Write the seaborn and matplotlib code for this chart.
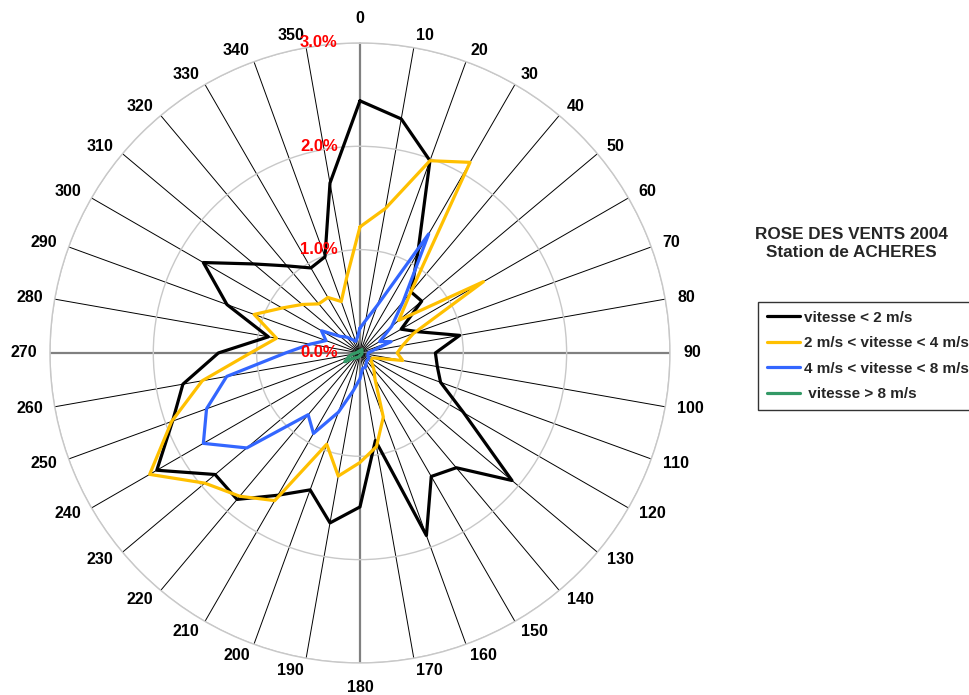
import numpy as np
import pandas as pd
import matplotlib
matplotlib.use("Agg")
import matplotlib.pyplot as plt
from matplotlib.lines import Line2D
import seaborn as sns

# Wind directions (degrees from north) and frequency per speed class (%)
directions = list(range(0, 360, 10))

speed_lt2 = [2.44, 2.30, 1.98, 1.12, 0.77, 0.78, 0.46, 0.60, 0.98, 0.73,
             0.76, 0.83, 1.16, 1.92, 1.45, 1.38, 1.88, 0.86, 1.49, 1.67,
             1.41, 1.59, 1.85, 1.83, 2.27, 1.93, 1.74, 1.37, 0.90, 1.37,
             1.75, 1.34, 1.10, 0.95, 0.99, 1.67]

speed_2_4 = [1.22, 1.42, 1.98, 2.13, 0.76, 0.49, 1.38, 0.55, 0.42, 0.36,
             0.42, 0.14, 0.12, 0.15, 0.21, 0.29, 0.66, 0.92, 1.06, 1.21,
             0.94, 1.65, 1.81, 1.96, 2.35, 1.94, 1.55, 1.06, 0.82, 1.09,
             0.87, 0.73, 0.62, 0.62, 0.53, 0.74]

speed_4_8 = [0.24, 0.32, 0.49, 1.33, 0.65, 0.40, 0.22, 0.32, 0.12, 0.08,
             0.08, 0.08, 0.10, 0.10, 0.10, 0.12, 0.15, 0.15, 0.25, 0.37,
             0.61, 0.90, 0.78, 1.43, 1.75, 1.58, 1.31, 0.72, 0.49, 0.35,
             0.43, 0.25, 0.20, 0.15, 0.12, 0.15]

speed_gt8 = [0.02, 0.02, 0.03, 0.04, 0.03, 0.02, 0.02, 0.02, 0.02, 0.02,
             0.02, 0.02, 0.02, 0.02, 0.02, 0.02, 0.02, 0.02, 0.03, 0.03,
             0.04, 0.05, 0.06, 0.08, 0.17, 0.12, 0.08, 0.04, 0.03, 0.02,
             0.02, 0.02, 0.02, 0.02, 0.02, 0.02]

series_names = ["vitesse < 2 m/s", "2 m/s < vitesse < 4 m/s",
                "4 m/s < vitesse < 8 m/s", " vitesse > 8 m/s"]
series_values = [speed_lt2, speed_2_4, speed_4_8, speed_gt8]
series_colors = ["#000000", "#FFC000", "#3366FF", "#339966"]

radial_ticks = [0.0, 1.0, 2.0, 3.0]
radial_labels = ["0.0%", "1.0%", "2.0%", "3.0%"]

# Long table, each series closed back onto its first direction
rows = []
for name, vals in zip(series_names, series_values):
    for d, v in zip(directions + [360], vals + [vals[0]]):
        rows.append({"theta": np.deg2rad(d), "freq": v, "classe": name})
df = pd.DataFrame(rows)

sns.set_theme(style="white")
plt.rcParams["font.family"] = ["Liberation Sans", "DejaVu Sans"]

fig = plt.figure(figsize=(9.7, 6.95), dpi=100)
ax = fig.add_axes([0.0515, 0.0461, 0.6392, 0.8921], projection="polar")
ax.set_theta_zero_location("N")
ax.set_theta_direction(-1)
ax.set_ylim(0, 3.0)
ax.set_axisbelow(True)

sns.lineplot(data=df, x="theta", y="freq", hue="classe",
             palette=dict(zip(series_names, series_colors)),
             hue_order=series_names, sort=False, estimator=None,
             linewidth=2.3, legend=False, ax=ax)
ax.set_xlabel("")
ax.set_ylabel("")

# Direction spokes; labels drawn just outside the outer ring
ax.set_thetagrids(directions, [""] * len(directions))
for i, gl in enumerate(ax.xaxis.get_gridlines()):
    if directions[i] % 90 == 0:
        gl.set_color("#808080")
        gl.set_linewidth(1.6)
    else:
        gl.set_color("#000000")
        gl.set_linewidth(0.7)
    gl.set_linestyle("-")

rmax = ax.get_ylim()[1]
for d in directions:
    s, c = np.sin(np.deg2rad(d)), np.cos(np.deg2rad(d))
    if d in (0, 180):
        ha, va, dist = "center", ("bottom" if d == 0 else "top"), 12
    else:
        ha, va = ("left" if s > 0 else "right"), "center"
        dist = 9.5 if d in (90, 270) else 8.6
    ax.annotate(str(d), xy=(np.deg2rad(d), rmax),
                xytext=(dist * s, dist * c), textcoords="offset points",
                ha=ha, va=va, fontsize=11.5, fontweight="bold",
                color="black", annotation_clip=False)

# Circular frequency rings
ax.set_rgrids(radial_ticks[1:], [""] * 3)
ax.yaxis.grid(True, color="#c8c8c8", linewidth=1.0, linestyle="-")
ax.spines["polar"].set_color("#c8c8c8")
ax.spines["polar"].set_linewidth(1.0)

for r, lab in zip(radial_ticks, radial_labels):
    ax.annotate(lab, xy=(0, r), xytext=(-16, 0), textcoords="offset points",
                ha="right", va="center", color="#FF0000", fontsize=12,
                fontweight="bold", annotation_clip=False)

fig.text(0.878, 0.649, "ROSE DES VENTS 2004\nStation de ACHERES",
         ha="center", va="center", fontsize=12.3, fontweight="bold",
         linespacing=1.25)

handles = [Line2D([0], [0], color=c, lw=2.3) for c in series_colors]
leg = fig.legend(handles, series_names, loc="upper left",
                 bbox_to_anchor=(0.781, 0.566), frameon=True, fancybox=False,
                 edgecolor="black", handlelength=2.2,
                 handletextpad=0.25, borderpad=0.6, labelspacing=0.75,
                 borderaxespad=0.0,
                 prop={"weight": "bold", "size": 11})
leg.get_frame().set_linewidth(1.0)

fig.savefig("out.png", dpi=100)
